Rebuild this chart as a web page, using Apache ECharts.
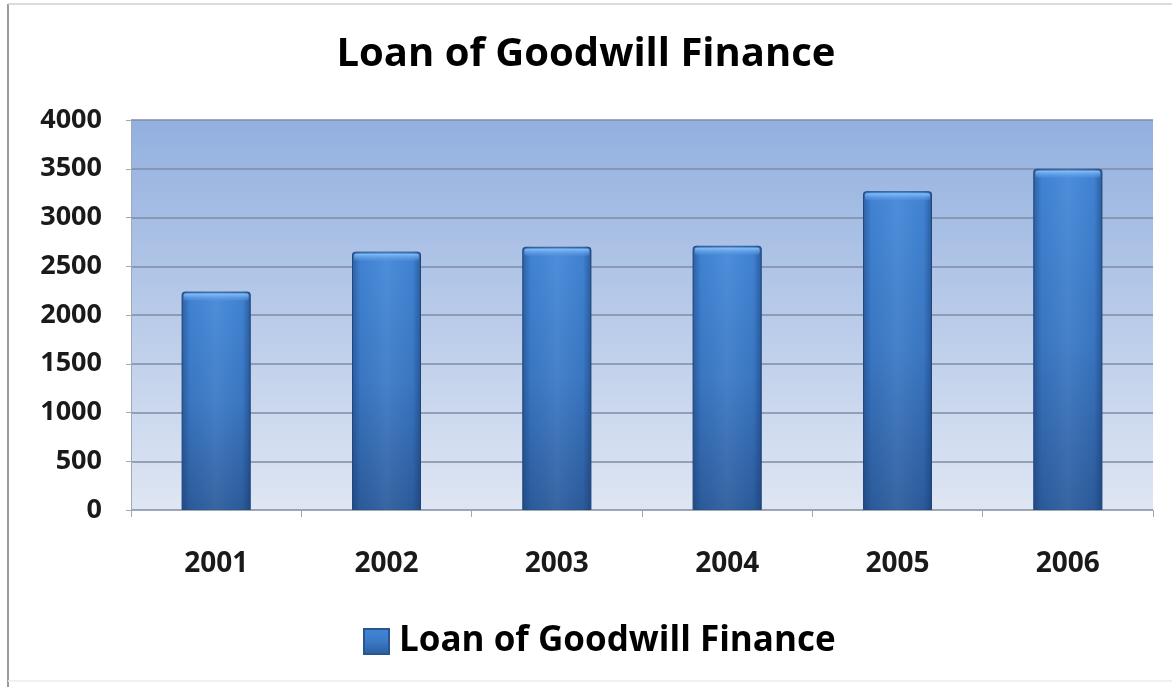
<!DOCTYPE html>
<html>
<head>
<meta charset="utf-8">
<style>
  html, body { margin: 0; padding: 0; background: #ffffff; }
  #chart { width: 1172px; height: 687px; }
</style>
<script src="https://cdn.jsdelivr.net/npm/echarts@6/dist/echarts.min.js"></script>
</head>
<body>
<div id="chart"></div>
<script>
// Yearly loan amounts
const years = ['2001', '2002', '2003', '2004', '2005', '2006'];
const loanValues = [2240, 2650, 2700, 2710, 3270, 3500];
const seriesName = 'Loan of Goodwill Finance';
const yTicks = { min: 0, max: 4000, interval: 500 };

const font = '"Open Sans", "Noto Sans", sans-serif';

const chart = echarts.init(document.getElementById('chart'));

const barFill = new echarts.graphic.LinearGradient(0, 0, 0, 1, [
  { offset: 0, color: '#4287d8' },
  { offset: 0.5, color: '#3b79c6' },
  { offset: 1, color: '#2c5c9c' }
]);
// side shading laid over the main bars
const edgeShade = new echarts.graphic.LinearGradient(0, 0, 1, 0, [
  { offset: 0, color: 'rgba(20,50,100,0.45)' },
  { offset: 0.12, color: 'rgba(20,50,100,0.05)' },
  { offset: 0.5, color: 'rgba(255,255,255,0.06)' },
  { offset: 0.88, color: 'rgba(20,50,100,0.05)' },
  { offset: 1, color: 'rgba(20,50,100,0.5)' }
]);

chart.setOption({
  backgroundColor: '#ffffff',
  animation: false,
  title: {
    text: seriesName,
    left: 'center',
    top: 30,
    textStyle: { fontFamily: font, fontSize: 40, fontWeight: 'bold', color: '#000000' }
  },
  legend: {
    data: [seriesName],
    top: 619,
    left: 358,
    itemWidth: 25,
    itemHeight: 25,
    itemGap: 8,
    icon: 'rect',
    textStyle: { fontFamily: font, fontSize: 35, fontWeight: 'bold', color: '#000000', padding: [0, 0, 0, 5] }
  },
  grid: {
    left: 131, right: 19, top: 120, bottom: 177,
    show: true,
    borderWidth: 0,
    backgroundColor: new echarts.graphic.LinearGradient(0, 0, 0, 1, [
      { offset: 0, color: '#92b0df' },
      { offset: 1, color: '#dfe6f3' }
    ])
  },
  xAxis: {
    type: 'category',
    data: years,
    boundaryGap: true,
    axisLine: { show: true, lineStyle: { color: '#a0a8b4', width: 1 } },
    axisTick: { show: true, length: 7, lineStyle: { color: '#a0a8b4' } },
    axisLabel: { margin: 40, fontFamily: font, fontSize: 28, fontWeight: 'bold', color: '#1a1a1a' },
    splitLine: { show: false }
  },
  yAxis: {
    type: 'value',
    min: yTicks.min,
    max: yTicks.max,
    interval: yTicks.interval,
    axisLine: { show: true, lineStyle: { color: '#a0a8b4' } },
    axisTick: { show: true, length: 5, lineStyle: { color: '#a0a8b4' } },
    axisLabel: {
      margin: 29, fontFamily: font, fontSize: 27, fontWeight: 'bold', color: '#1a1a1a',
      formatter: v => String(v)
    },
    splitLine: { show: true, lineStyle: { color: '#7e8ca3', width: 1.5 } }
  },
  series: [
    {
      name: seriesName,
      type: 'bar',
      data: loanValues,
      barWidth: '40.5%',
      itemStyle: {
        color: barFill,
        borderColor: '#2a5690',
        borderWidth: 1,
        borderRadius: [3, 3, 0, 0]
      }
    },
    {
      name: 'shade',
      type: 'bar',
      data: loanValues,
      barWidth: '40.5%',
      barGap: '-100%',
      silent: true,
      itemStyle: { color: edgeShade, borderRadius: [3, 3, 0, 0] }
    },
    {
      // light bevel along the top of each bar
      name: 'bevel',
      type: 'custom',
      silent: true,
      data: loanValues.map((v, i) => [i, v]),
      renderItem: function (params, api) {
        const top = api.coord([api.value(0), api.value(1)]);
        const size = api.size([1, 0]);
        const w = size[0] * 0.405;
        return {
          type: 'rect',
          shape: { x: top[0] - w / 2 + 2, y: top[1] + 2, width: w - 4, height: 7, r: 2 },
          style: {
            fill: new echarts.graphic.LinearGradient(0, 0, 0, 1, [
              { offset: 0, color: 'rgba(140,195,250,0.95)' },
              { offset: 1, color: 'rgba(90,150,225,0.3)' }
            ])
          }
        };
      },
      z: 3
    }
  ],
  graphic: [
    { type: 'line', shape: { x1: 8, y1: 4, x2: 8, y2: 687 }, style: { stroke: '#9a9a9a', lineWidth: 2 } },
    { type: 'line', shape: { x1: 8, y1: 4, x2: 1172, y2: 4 }, style: { stroke: '#cfcfcf', lineWidth: 1.5 } },
    { type: 'line', shape: { x1: 8, y1: 681, x2: 1172, y2: 681 }, style: { stroke: '#ececec', lineWidth: 1.5 } }
  ]
});
</script>
</body>
</html>
